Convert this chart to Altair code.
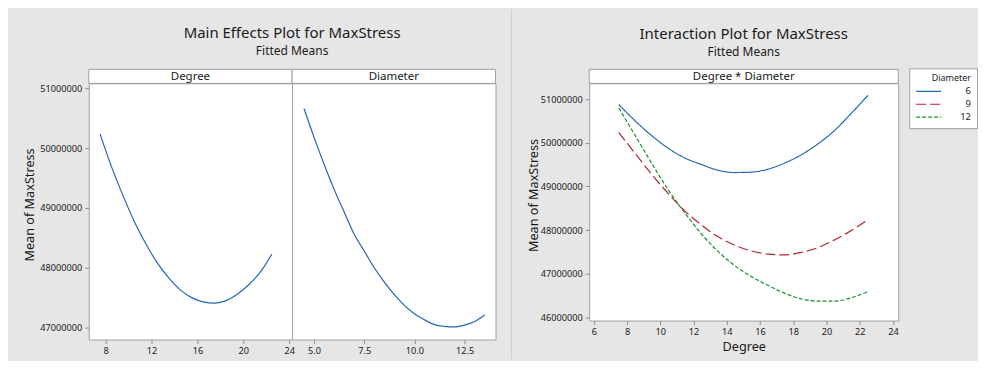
import altair as alt
import pandas as pd

# ---------------- data ----------------
degree_levels = [7.5, 8.5, 9.5, 10.5, 11.5, 12.5, 13.5, 14.5, 15.5, 16.5,
                 17.5, 18.5, 19.5, 20.5, 21.5, 22.5]
main_degree = [50.24, 49.69, 49.21, 48.77, 48.40, 48.08, 47.83, 47.63, 47.50,
               47.43, 47.41, 47.45, 47.56, 47.72, 47.93, 48.23]  # millions

diameter_levels = [4.5, 5.0, 5.5, 6.0, 6.5, 7.0, 7.5, 8.0, 8.5, 9.0, 9.5,
                   10.0, 10.5, 11.0, 11.5, 12.0, 12.5, 13.0, 13.5]
main_diameter = [50.66, 50.18, 49.73, 49.31, 48.93, 48.56, 48.28, 48.00, 47.76,
                 47.55, 47.37, 47.23, 47.13, 47.05, 47.02, 47.01, 47.04, 47.10,
                 47.21]  # millions

diameter_groups = ["6", "9", "12"]
inter_d6 = [50.88, 50.50, 50.16, 49.87, 49.65, 49.50, 49.37, 49.32, 49.33,
            49.40, 49.54, 49.73, 49.98, 50.29, 50.68, 51.09]
inter_d9 = [50.24, 49.75, 49.27, 48.83, 48.43, 48.11, 47.84, 47.65, 47.52,
            47.45, 47.43, 47.49, 47.60, 47.78, 47.99, 48.24]
inter_d12 = [50.80, 50.16, 49.52, 48.91, 48.38, 47.90, 47.50, 47.18, 46.93,
             46.73, 46.55, 46.42, 46.37, 46.37, 46.45, 46.59]

degree_ticks_main = [8, 12, 16, 20, 24]
diameter_ticks_main = [5.0, 7.5, 10.0, 12.5]
degree_ticks_inter = [6, 8, 10, 12, 14, 16, 18, 20, 22, 24]
y_ticks_main = [47000000, 48000000, 49000000, 50000000, 51000000]
y_ticks_inter = [46000000, 47000000, 48000000, 49000000, 50000000, 51000000]

# ---------------- styling ----------------
BG = "#e6e6e6"
BORDER = "#a0a0a0"
DIVIDER = "#cdcdcd"
FONT = "Noto Sans"
TXT = "#1a1a1a"
BLUE = "#2166b7"
RED = "#b2262c"
GREEN = "#17902e"

W1, H1 = 204, 257
W2, H2 = 310, 238
GAP = 94
STRIP = 14
TOP, BOTTOM = -74, 277   # extent of the grey backdrop around the plots

df_deg = pd.DataFrame({"Degree": degree_levels,
                       "MaxStress": [v * 1e6 for v in main_degree]})
df_dia = pd.DataFrame({"Diameter": diameter_levels,
                       "MaxStress": [v * 1e6 for v in main_diameter]})
rows = []
for g, vals in zip(diameter_groups, [inter_d6, inter_d9, inter_d12]):
    for d, v in zip(degree_levels, vals):
        rows.append({"Degree": d, "MaxStress": v * 1e6, "Diameter": g})
df_int = pd.DataFrame(rows)
one = pd.DataFrame({"k": [0]})


def strip(label, w):
    box = alt.Chart(one).mark_rect(fill="white", stroke=BORDER, strokeWidth=1).encode(
        x=alt.value(0), x2=alt.value(w), y=alt.value(-STRIP), y2=alt.value(0))
    txt = alt.Chart(one).mark_text(text=label, font=FONT, fontSize=11.5, color=TXT,
                                   baseline="middle", align="center").encode(
        x=alt.value(w / 2), y=alt.value(-STRIP / 2 + 0.5))
    return [box, txt]


def titles(main, x, y_main, y_sub):
    t1 = alt.Chart(one).mark_text(text=main, font=FONT, fontSize=15, color=TXT,
                                  baseline="alphabetic", align="center").encode(
        x=alt.value(x), y=alt.value(y_main))
    t2 = alt.Chart(one).mark_text(text="Fitted Means", font=FONT, fontSize=12, color=TXT,
                                  baseline="alphabetic", align="center").encode(
        x=alt.value(x), y=alt.value(y_sub))
    return [t1, t2]


def vrule(x, color):
    return alt.Chart(one).mark_rule(color=color, strokeWidth=1).encode(
        x=alt.value(x), y=alt.value(TOP), y2=alt.value(BOTTOM))


y_main_scale = alt.Scale(domain=[46.8e6, 51.0833e6], nice=False, zero=False)

deg_line = alt.Chart(df_deg).mark_line(color=BLUE, strokeWidth=1.2, interpolate="monotone").encode(
    x=alt.X("Degree:Q", scale=alt.Scale(domain=[6.52, 24.26], nice=False, zero=False),
            axis=alt.Axis(values=degree_ticks_main, format="d", title=None)),
    y=alt.Y("MaxStress:Q", scale=y_main_scale,
            axis=alt.Axis(values=y_ticks_main, format="d", title="Mean of MaxStress",
                          titleX=-55, titleY=(H1 - STRIP) / 2, titleAngle=270,
                          titleBaseline="alphabetic", titleAlign="center")))

deg_panel = alt.layer(vrule(-80, BG), *strip("Degree", W1), deg_line).properties(
    width=W1, height=H1)

dia_line = alt.Chart(df_dia).mark_line(color=BLUE, strokeWidth=1.2, interpolate="monotone").encode(
    x=alt.X("Diameter:Q", scale=alt.Scale(domain=[3.907, 14.04], nice=False, zero=False),
            axis=alt.Axis(values=diameter_ticks_main, format=".1f", title=None)),
    y=alt.Y("MaxStress:Q", scale=y_main_scale, axis=None))

dia_panel = alt.layer(*strip("Diameter", W1), dia_line,
                      *titles("Main Effects Plot for MaxStress", 0, -45, -28)).properties(
    width=W1, height=H1)

# spacer between the two panels, carrying the thin divider line
spacer = alt.Chart(one).mark_rule(color=DIVIDER, strokeWidth=1).encode(
    x=alt.value(16), y=alt.value(TOP), y2=alt.value(BOTTOM)
).properties(width=GAP, height=H1,
             view=alt.ViewBackground(fill="transparent", stroke="transparent"))

legend_common = dict(orient="none", legendX=823, legendY=-15, title="Diameter")

int_lines = alt.Chart(df_int).mark_line(strokeWidth=1.2, interpolate="monotone").encode(
    x=alt.X("Degree:Q", scale=alt.Scale(domain=[5.72, 24.32], nice=False, zero=False),
            axis=alt.Axis(values=degree_ticks_inter, format="d", title="Degree",
                          titlePadding=4)),
    y=alt.Y("MaxStress:Q", scale=alt.Scale(domain=[45.925e6, 51.366e6], nice=False, zero=False),
            axis=alt.Axis(values=y_ticks_inter, format="d", title="Mean of MaxStress",
                          titleX=-52, titleY=(H2 - STRIP) / 2, titleAngle=270,
                          titleBaseline="alphabetic", titleAlign="center")),
    color=alt.Color("Diameter:N", sort=diameter_groups,
                    scale=alt.Scale(domain=diameter_groups, range=[BLUE, RED, GREEN]),
                    legend=alt.Legend(**legend_common, titleAnchor="end",
                                      titleFontSize=9, titleFont=FONT, titleFontWeight="normal",
                                      titleColor=TXT, titlePadding=2,
                                      labelFont=FONT, labelFontSize=9.5,
                                      labelColor=TXT, labelAlign="right", labelOffset=44,
                                      symbolType="M-1,0H4", symbolSize=100,
                                      symbolStrokeWidth=1.2, strokeColor=BORDER,
                                      fillColor="white", padding=6, rowPadding=2)),
    strokeDash=alt.StrokeDash("Diameter:N", sort=diameter_groups,
                              scale=alt.Scale(domain=diameter_groups,
                                              range=[[1, 0], [10, 4], [4, 2]]),
                              legend=alt.Legend(**legend_common)),
    detail="Diameter:N")

right_chart = alt.layer(vrule(386, BG), *strip("Degree * Diameter", W2), int_lines,
                        *titles("Interaction Plot for MaxStress", W2 / 2, -44.5, -27.5)).properties(
    width=W2, height=H2)

chart = alt.hconcat(deg_panel, dia_panel, spacer, right_chart, spacing=0,
                    bounds="flush").properties(
    padding=0, background=BG
).configure_view(fill="white", stroke=BORDER, strokeWidth=1).configure_axis(
    labelFont=FONT, labelFontSize=9.2, labelColor=TXT, tickColor="#8c8c8c", tickSize=4,
    domain=False, grid=False, labelPadding=3, titleFont=FONT, titleFontSize=12.7,
    titleFontWeight="normal", titleColor=TXT
)

chart.save("out.html", embed_options={"renderer": "svg", "actions": False})
